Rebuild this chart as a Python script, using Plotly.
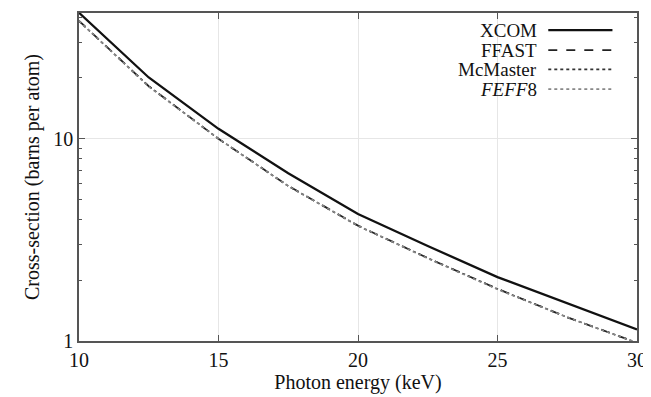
import plotly.graph_objects as go

# Photon energy (keV)
energy = [10, 12.5, 15, 17.5, 20, 22.5, 25, 27.5, 30]
# Cross-sections (barns per atom)
xcom = [42.0, 20.1, 11.2, 6.76, 4.25, 2.95, 2.07, 1.53, 1.14]
ffast = [38.3, 18.2, 10.0, 5.85, 3.72, 2.57, 1.81, 1.31, 0.98]
mcmaster = [38.2, 18.2, 10.0, 5.84, 3.71, 2.57, 1.81, 1.31, 0.98]
feff8 = [38.3, 18.1, 10.0, 5.84, 3.72, 2.56, 1.80, 1.31, 0.98]

series_names = ["XCOM", "FFAST", "McMaster", "<i>FEFF</i>8"]
x_ticks = [10, 15, 20, 25, 30]
y_ticks = [1, 10]
y_minor = [2, 3, 4, 5, 6, 7, 8, 9, 20, 30, 40]

FONT = "Liberation Serif, Times New Roman, serif"

styles = [
    dict(color="#111111", width=2.3, dash="solid"),
    dict(color="#222222", width=1.8, dash="dash"),
    dict(color="#333333", width=1.6, dash="dot"),
    dict(color="#888888", width=1.6, dash="dot"),
]

fig = go.Figure()
for name, vals, st in zip(series_names, [xcom, ffast, mcmaster, feff8], styles):
    fig.add_trace(go.Scatter(x=energy, y=vals, mode="lines", name=name,
                             line=st, showlegend=False))

# custom legend (text on left, sample on right)
leg_y = [0.948, 0.887, 0.828, 0.768]
for name, st, yy in zip(series_names, styles, leg_y):
    fig.add_annotation(xref="paper", yref="paper", x=0.823, y=yy, text=name,
                       showarrow=False, xanchor="right", yanchor="middle",
                       borderpad=0,
                       font=dict(family=FONT, size=19, color="#111111"))
    fig.add_shape(type="line", xref="paper", yref="paper",
                  x0=0.841, x1=0.956, y0=yy, y1=yy, line=st)

axis_common = dict(
    showline=True, linecolor="#555555", linewidth=1.5, mirror="ticks",
    ticks="inside", tickcolor="#555555", ticklen=6,
    showgrid=True, gridcolor="#e6e6e6", gridwidth=1,
    zeroline=False, automargin=False,
    tickfont=dict(family=FONT, size=20, color="#111111"),
)

fig.update_xaxes(range=[10, 30], tickvals=x_ticks,
                 title=dict(text="Photon energy (keV)", standoff=2,
                            font=dict(family=FONT, size=20, color="#111111")),
                 **axis_common)
fig.update_yaxes(type="log", range=[0, 1.622], tickvals=y_ticks,
                 ticktext=[str(v) for v in y_ticks],
                 minor=dict(tickvals=y_minor, ticks="inside", ticklen=3,
                            tickcolor="#555555", showgrid=False),
                 title=dict(text="Cross-section (barns per atom)", standoff=8,
                            font=dict(family=FONT, size=20, color="#111111")),
                 **axis_common)

# the page body adds an 8px margin, so the figure is sized to compensate
fig.update_layout(
    width=643, height=389,
    margin=dict(l=71, r=14, t=5, b=56),
    paper_bgcolor="white", plot_bgcolor="white",
    showlegend=False,
)

fig.write_html("out.html")
